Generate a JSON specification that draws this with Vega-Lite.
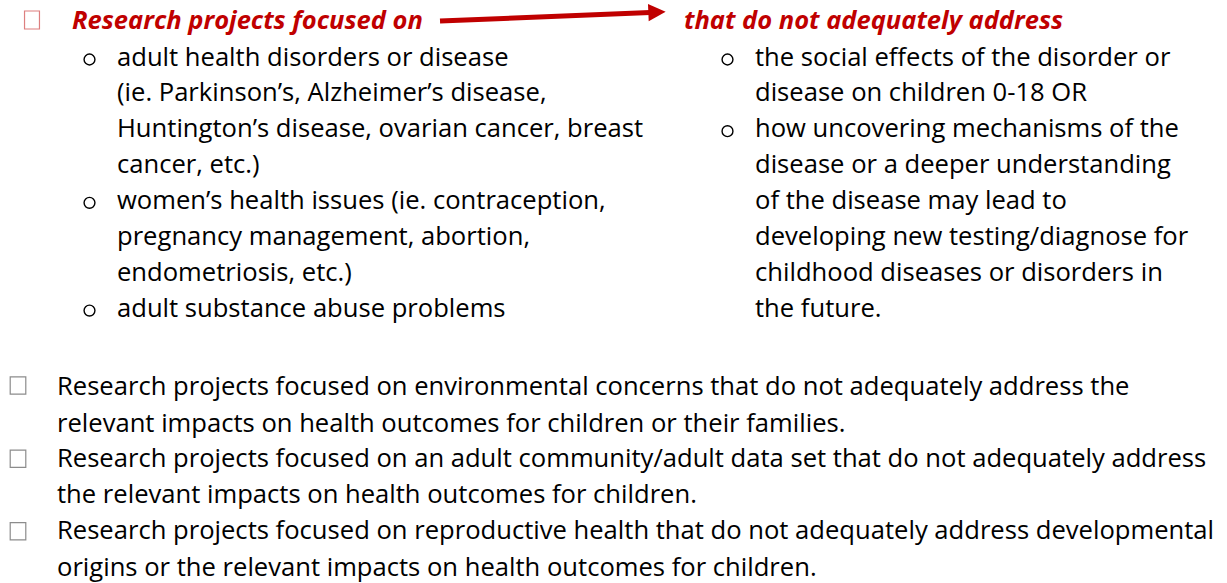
{
  "$schema": "https://vega.github.io/schema/vega-lite/v6.json",
  "width": 1227,
  "height": 583,
  "padding": 0,
  "autosize": {"type": "fit", "contains": "padding"},
  "background": "white",
  "config": {"view": {"stroke": null}},
  "data": {"values": [
    {"kind": "redbox", "x": 32, "y": 20},
    {"kind": "head", "x": 72, "y": 29.3, "t": "Research projects focused on"},
    {"kind": "arrow", "x": 440, "y": 21, "x2": 650, "y2": 12.4},
    {"kind": "arrowhead", "x": 657, "y": 12.2},
    {"kind": "head", "x": 684, "y": 29.3, "t": "that do not adequately address"},
    {"kind": "circle", "x": 89.5, "y": 59.5},
    {"kind": "body", "x": 117, "y": 65.5, "t": "adult health disorders or disease"},
    {"kind": "body", "x": 117, "y": 101.4, "t": "(ie. Parkinson’s, Alzheimer’s disease,"},
    {"kind": "body", "x": 117, "y": 137.3, "t": "Huntington’s disease, ovarian cancer, breast"},
    {"kind": "body", "x": 117, "y": 173.2, "t": "cancer, etc.)"},
    {"kind": "circle", "x": 89.5, "y": 202.8},
    {"kind": "body", "x": 117, "y": 209.1, "t": "women’s health issues (ie. contraception,"},
    {"kind": "body", "x": 117, "y": 245, "t": "pregnancy management, abortion,"},
    {"kind": "body", "x": 117, "y": 280.9, "t": "endometriosis, etc.)"},
    {"kind": "circle", "x": 89.5, "y": 310.6},
    {"kind": "body", "x": 117, "y": 316.8, "t": "adult substance abuse problems"},
    {"kind": "circle", "x": 727.5, "y": 59.5},
    {"kind": "body", "x": 755, "y": 65.5, "t": "the social effects of the disorder or"},
    {"kind": "body", "x": 755, "y": 101.4, "t": "disease on children 0-18 OR"},
    {"kind": "circle", "x": 727.5, "y": 131.2},
    {"kind": "body", "x": 755, "y": 137.3, "t": "how uncovering mechanisms of the"},
    {"kind": "body", "x": 755, "y": 173.2, "t": "disease or a deeper understanding"},
    {"kind": "body", "x": 755, "y": 209.1, "t": "of the disease may lead to"},
    {"kind": "body", "x": 755, "y": 245, "t": "developing new testing/diagnose for"},
    {"kind": "body", "x": 755, "y": 280.9, "t": "childhood diseases or disorders in"},
    {"kind": "body", "x": 755, "y": 316.8, "t": "the future."},
    {"kind": "box", "x": 18, "y": 385.5},
    {"kind": "body", "x": 57, "y": 395, "t": "Research projects focused on environmental concerns that do not adequately address the"},
    {"kind": "body", "x": 57, "y": 431.7, "t": "relevant impacts on health outcomes for children or their families."},
    {"kind": "box", "x": 18, "y": 458.7},
    {"kind": "body", "x": 57, "y": 467.3, "t": "Research projects focused on an adult community/adult data set that do not adequately address"},
    {"kind": "body", "x": 57, "y": 502.7, "t": "the relevant impacts on health outcomes for children."},
    {"kind": "box", "x": 18, "y": 531.3},
    {"kind": "body", "x": 57, "y": 539.3, "t": "Research projects focused on reproductive health that do not adequately address developmental"},
    {"kind": "body", "x": 57, "y": 576, "t": "origins or the relevant impacts on health outcomes for children."}
  ]},
  "encoding": {
    "x": {"field": "x", "type": "quantitative", "scale": {"domain": [0, 1227], "nice": false, "zero": false}, "axis": null},
    "y": {"field": "y", "type": "quantitative", "scale": {"domain": [0, 583], "nice": false, "zero": false, "reverse": true}, "axis": null}
  },
  "layer": [
    {
      "transform": [{"filter": "datum.kind === 'arrow'"}],
      "mark": {"type": "rule", "color": "#C00000", "strokeWidth": 5},
      "encoding": {
        "x2": {"field": "x2"},
        "y2": {"field": "y2"}
      }
    },
    {
      "transform": [{"filter": "datum.kind === 'arrowhead'"}],
      "mark": {"type": "point", "shape": "M-1,-1L1,0L-1,1Z", "size": 300, "filled": true, "color": "#C00000", "opacity": 1, "angle": -2.4}
    },
    {
      "transform": [{"filter": "datum.kind === 'redbox'"}],
      "mark": {"type": "point", "shape": "M-0.83,-1H0.83V1H-0.83Z", "size": 324, "filled": false, "stroke": "#dd7f7f", "strokeWidth": 1.2, "opacity": 1}
    },
    {
      "transform": [{"filter": "datum.kind === 'box'"}],
      "mark": {"type": "point", "shape": "M-0.9,-1H0.9V1H-0.9Z", "size": 300, "filled": false, "stroke": "#8c8c8c", "strokeWidth": 1.2, "opacity": 1}
    },
    {
      "transform": [{"filter": "datum.kind === 'circle'"}],
      "mark": {"type": "point", "shape": "circle", "size": 118, "filled": false, "stroke": "#000000", "strokeWidth": 1.4, "opacity": 1}
    },
    {
      "transform": [{"filter": "datum.kind === 'head'"}],
      "mark": {"type": "text", "font": "Open Sans", "fontSize": 25.5, "fontWeight": "bold", "fontStyle": "italic", "color": "#C00000", "align": "left", "baseline": "alphabetic"},
      "encoding": {"text": {"field": "t"}}
    },
    {
      "transform": [{"filter": "datum.kind === 'body'"}],
      "mark": {"type": "text", "font": "Open Sans", "fontSize": 25.6, "color": "#000000", "align": "left", "baseline": "alphabetic"},
      "encoding": {"text": {"field": "t"}}
    }
  ]
}
